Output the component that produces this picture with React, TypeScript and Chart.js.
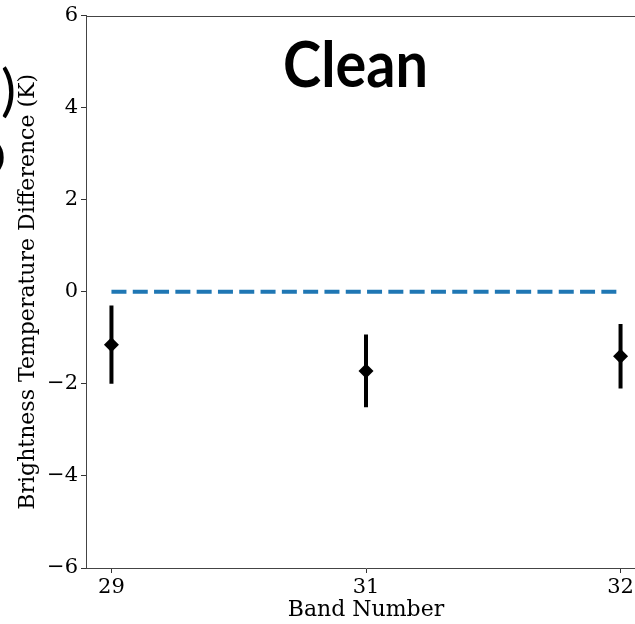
import React, { useEffect, useRef } from 'react';
import { Chart, registerables } from 'chart.js';

Chart.register(...registerables);

// ---- data ----
const bands = ['29', '31', '32'];
const meanDiff = [-1.15, -1.72, -1.40];
const errDiff = [0.85, 0.79, 0.70];
const refLine = [0, 0, 0];
const yTicks = [-6, -4, -2, 0, 2, 4, 6];
const titleText = 'Clean';
const xTitle = 'Band Number';
const yTitle = 'Brightness Temperature Difference (K)';

const SERIF = "'DejaVu Serif', serif";

const decorPlugin = {
  id: 'decor',
  afterDraw(chart: any) {
    const { ctx, chartArea } = chart;
    ctx.save();
    // top spine
    ctx.strokeStyle = '#444';
    ctx.lineWidth = 1;
    ctx.beginPath();
    ctx.moveTo(chartArea.left, Math.round(chartArea.top) + 0.5);
    ctx.lineTo(chartArea.right, Math.round(chartArea.top) + 0.5);
    ctx.stroke();

    // big title
    ctx.fillStyle = '#000';
    ctx.font = "bold 64px Lato, 'Open Sans', sans-serif";
    ctx.textBaseline = 'alphabetic';
    ctx.textAlign = 'left';
    const w = ctx.measureText(titleText).width;
    const targetW = 145;
    ctx.save();
    ctx.translate(283, 87);
    ctx.scale(targetW / w, 1);
    ctx.fillText(titleText, 0, 0);
    ctx.restore();

    // fragments of neighbouring panel label at the left edge
    ctx.font = "56px Lato, 'Open Sans', sans-serif";
    ctx.textAlign = 'right';
    ctx.fillText(')', 16, 110);
    ctx.font = "bold 72px Lato, 'Open Sans', sans-serif";
    ctx.fillText('o', 6, 176);
    ctx.restore();
  },
};

export default function App() {
  const ref = useRef<HTMLCanvasElement | null>(null);

  useEffect(() => {
    if (!ref.current) return;
    const datasets: any[] = [
      {
        type: 'line',
        data: refLine.map((y, i) => ({ x: i, y })),
        borderColor: '#1f77b4',
        borderWidth: 4,
        borderDash: [15, 6.3],
        borderCapStyle: 'butt',
        pointRadius: 0,
        fill: false,
      },
      ...errDiff.map((e, i) => ({
        type: 'line',
        data: [
          { x: i, y: meanDiff[i] - e },
          { x: i, y: meanDiff[i] + e },
        ],
        borderColor: '#000',
        borderWidth: 4,
        borderCapStyle: 'butt',
        pointRadius: 0,
        fill: false,
      })),
      {
        type: 'scatter',
        data: meanDiff.map((y, i) => ({ x: i, y })),
        pointStyle: 'rectRot',
        pointRadius: 7.5,
        backgroundColor: '#000',
        borderColor: '#000',
        borderWidth: 0,
      },
    ];

    const tickFont = { family: SERIF, size: 21 };
    const labelFont = { family: SERIF, size: 22 };
    const chart = new Chart(ref.current, {
      type: 'scatter',
      data: { datasets },
      options: {
        responsive: false,
        animation: false,
        devicePixelRatio: 1,
        layout: { padding: { top: 13, right: 54, left: 0, bottom: 0 } },
        plugins: {
          legend: { display: false },
          tooltip: { enabled: false },
          title: { display: false },
        },
        scales: {
          x: {
            type: 'linear',
            min: -0.1,
            max: 2.1,
            afterBuildTicks: (s: any) => {
              s.ticks = bands.map((_, i) => ({ value: i }));
            },
            ticks: {
              callback: (v: any) => bands[Math.round(v)] ?? '',
              font: tickFont,
              color: '#000',
              padding: 2,
              maxRotation: 0,
              autoSkip: false,
            },
            grid: { drawOnChartArea: false, drawTicks: true, tickLength: 5, color: '#333', lineWidth: 1 },
            border: { display: true, color: '#444', width: 1 },
            title: { display: true, text: xTitle, font: labelFont, color: '#000', padding: { top: 0, bottom: 1 } },
            afterFit: (s: any) => {
              s.height = 56;
            },
          },
          y: {
            type: 'linear',
            min: -6,
            max: 6,
            afterBuildTicks: (s: any) => {
              s.ticks = yTicks.map((v) => ({ value: v }));
            },
            ticks: {
              callback: (v: any) => (v < 0 ? '\u2212' + Math.abs(v) : String(v)),
              font: tickFont,
              color: '#000',
              padding: 3,
            },
            grid: { drawOnChartArea: false, drawTicks: true, tickLength: 5, color: '#333', lineWidth: 1 },
            border: { display: true, color: '#444', width: 1 },
            title: { display: true, text: yTitle, font: labelFont, color: '#000', padding: { top: 15, bottom: 0 } },
            afterFit: (s: any) => {
              s.width = 86;
            },
          },
        },
      } as any,
      plugins: [decorPlugin],
    });
    return () => chart.destroy();
  }, []);

  return (
    <div
      style={{
        position: 'fixed',
        left: 0,
        top: 0,
        width: 635,
        height: 624,
        overflow: 'hidden',
        background: '#fff',
      }}
    >
      <canvas ref={ref} width={700} height={624} style={{ display: 'block', width: 700, height: 624 }} />
    </div>
  );
}
